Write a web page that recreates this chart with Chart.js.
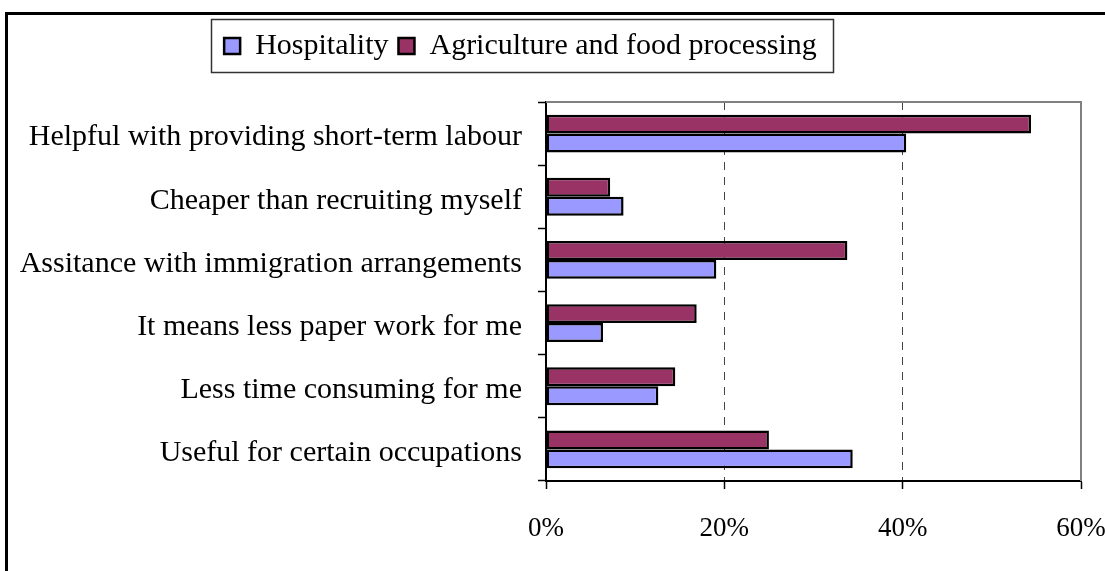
<!DOCTYPE html>
<html>
<head>
<meta charset="utf-8">
<script src="https://cdn.jsdelivr.net/npm/chart.js@4.4.1/dist/chart.umd.min.js"></script>
<style>
  html, body { margin: 0; padding: 0; background: #fff; }
  #wrap { width: 1105px; height: 571px; position: relative; }
</style>
</head>
<body>
<div id="wrap"><canvas id="reasons"></canvas></div>
<script>
// data
const categories = [
    'Helpful with providing short-term labour',
    'Cheaper than recruiting myself',
    'Assitance with immigration arrangements',
    'It means less paper work for me',
    'Less time consuming for me',
    'Useful for certain occupations'
];
const hospitality = [40.4, 8.7, 19.1, 6.4, 12.6, 34.4];
const agriculture = [54.4, 7.2, 33.8, 16.9, 14.5, 25.0];
const seriesNames = ['Hospitality', 'Agriculture and food processing'];
const xTicks = [0, 20, 40, 60];

const FONT = 'Liberation Serif, Times New Roman, serif';
const COL_HOSP = '#9999FF';
const COL_AGRI = '#993366';

// outer frame, plot frame (top/right) and legend box
const framePlugin = {
    id: 'frames',
    afterLayout(chart) {
        const lg = chart.legend;
        lg.top -= 31; lg.bottom -= 31;
        lg.left -= 20; lg.right -= 20;
    },
    beforeDraw(chart) {
        const ctx = chart.ctx;
        ctx.save();
        ctx.strokeStyle = '#000';
        ctx.lineWidth = 3;
        ctx.beginPath();
        ctx.moveTo(6.5, 571);
        ctx.lineTo(6.5, 13.5);
        ctx.lineTo(1105, 13.5);
        ctx.stroke();
        ctx.restore();
    },
    afterDatasetsDraw(chart) {
        const {ctx, chartArea: a} = chart;
        ctx.save();
        ctx.strokeStyle = '#808080';
        ctx.lineWidth = 2;
        ctx.beginPath();
        ctx.moveTo(a.left, a.top);
        ctx.lineTo(a.right, a.top);
        ctx.lineTo(a.right, a.bottom);
        ctx.stroke();
        ctx.restore();
    },
    afterDraw(chart) {
        const boxes = chart.legend.legendHitBoxes;
        if (!boxes || !boxes.length) return;
        const left = Math.min(...boxes.map(b => b.left)) - 13;
        const right = Math.max(...boxes.map(b => b.left + b.width)) + 16;
        const mid = boxes[0].top + boxes[0].height / 2;
        const ctx = chart.ctx;
        ctx.save();
        ctx.strokeStyle = '#333';
        ctx.lineWidth = 1.5;
        ctx.strokeRect(Math.round(left) + 0.5, Math.round(mid - 27) + 0.5,
                       Math.round(right - left), 53);
        ctx.restore();
    }
};

new Chart(document.getElementById('reasons'), {
    type: 'bar',
    data: {
        labels: categories,
        datasets: [{
            label: seriesNames[1],
            data: agriculture,
            backgroundColor: COL_AGRI,
            borderColor: '#000',
            borderWidth: 2.5,
            borderSkipped: false
        }, {
            label: seriesNames[0],
            data: hospitality,
            backgroundColor: COL_HOSP,
            borderColor: '#000',
            borderWidth: 2.5,
            borderSkipped: false
        }]
    },
    options: {
        indexAxis: 'y',
        responsive: true,
        maintainAspectRatio: false,
        animation: false,
        categoryPercentage: 0.6,
        barPercentage: 1.0,
        layout: { padding: { top: 52, left: 0, right: 24, bottom: 0 } },
        plugins: {
            legend: {
                position: 'top',
                reverse: true,
                labels: {
                    font: { family: FONT, size: 30 },
                    color: '#000',
                    boxWidth: 16,
                    boxHeight: 16,
                    padding: 10
                }
            },
            tooltip: { enabled: false }
        },
        scales: {
            x: {
                type: 'linear',
                min: 0,
                max: 60,
                afterFit(scale) {
                    scale.height = 90;
                    scale.paddingLeft = 0;
                    scale.paddingRight = 0;
                },
                afterBuildTicks(scale) { scale.ticks = xTicks.map(v => ({ value: v })); },
                ticks: {
                    font: { family: FONT, size: 27 },
                    color: '#000',
                    padding: 24,
                    maxRotation: 0,
                    callback: v => v + '%'
                },
                grid: {
                    drawOnChartArea: true,
                    drawTicks: true,
                    tickLength: 8,
                    tickColor: '#000',
                    tickWidth: 1.5,
                    lineWidth: 1,
                    color: ctx => (ctx.tick && (ctx.tick.value === 0 || ctx.tick.value === 60)) ? 'rgba(0,0,0,0)' : '#444'
                },
                border: { display: true, color: '#000', width: 2, dash: [8, 7] }
            },
            y: {
                afterFit(scale) { scale.width = 546; },
                ticks: {
                    font: { family: FONT, size: 30 },
                    color: '#000',
                    padding: 16,
                    labelOffset: 4
                },
                grid: {
                    offset: true,
                    drawOnChartArea: false,
                    drawTicks: true,
                    tickLength: 8,
                    tickColor: '#000',
                    tickWidth: 1.5
                },
                border: { display: true, color: '#000', width: 2 }
            }
        }
    },
    plugins: [framePlugin]
});
</script>
</body>
</html>
